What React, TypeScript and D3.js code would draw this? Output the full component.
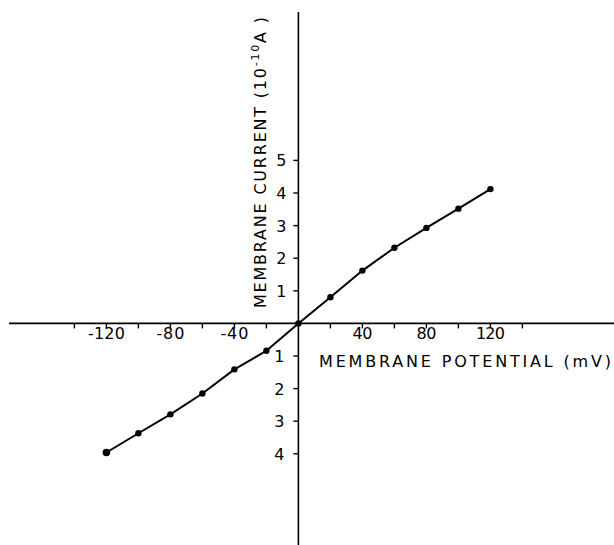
import * as d3 from "d3";

// membrane potential (mV) and membrane current (10^-10 A)
const potentials = [-120, -100, -80, -60, -40, -20, 0, 20, 40, 60, 80, 100, 120];
const currents = [-3.96, -3.37, -2.79, -2.15, -1.41, -0.84, 0, 0.8, 1.62, 2.32, 2.93, 3.52, 4.12];

const xTicks = [-140, -120, -100, -80, -60, -40, -20, 20, 40, 60, 80, 100, 120, 140];
const xTickLabels = [-120, -80, -40, 40, 80, 120];
const yTicks = [-4, -3, -2, -1, 1, 2, 3, 4, 5];

const W = 614;
const H = 545;
const font = "'DejaVu Sans', sans-serif";

const App = () => {
  const x = d3.scaleLinear().domain([-140, 140]).range([74.4, 522.4]);
  const y = d3.scaleLinear().domain([-4, 5]).range([453.8, 160.4]);

  const points = potentials.map((p, i) => [p, currents[i]] as [number, number]);
  const line = d3
    .line<[number, number]>()
    .x((d) => x(d[0]))
    .y((d) => y(d[1]));

  const x0 = x(0);
  const y0 = y(0);

  return (
    <svg
      width={W}
      height={H}
      style={{ position: "absolute", left: 0, top: 0, background: "#fff" }}
    >
      {/* axes */}
      <line x1={9} x2={W} y1={y0} y2={y0} stroke="#000" strokeWidth={1.6} />
      <line x1={x0} x2={x0} y1={12} y2={H} stroke="#000" strokeWidth={1.6} />

      {xTicks.map((t) => (
        <line key={t} x1={x(t)} x2={x(t)} y1={y0} y2={y0 + 5} stroke="#000" strokeWidth={1.4} />
      ))}
      {xTickLabels.map((t) => (
        <text
          key={t}
          x={x(t)}
          y={y0 + 16}
          textAnchor="middle"
          fontFamily={font}
          fontSize={16}
          fill="#000"
          textLength={t < 0 ? (t < -99 ? 37 : 28) : t > 99 ? 29 : 20}
          lengthAdjust="spacing"
        >
          {t < 0 ? "-" + Math.abs(t) : t}
        </text>
      ))}

      {yTicks.map((t) => (
        <line key={t} x1={x0 - 5} x2={x0} y1={y(t)} y2={y(t)} stroke="#000" strokeWidth={1.4} />
      ))}
      {yTicks.map((t) => (
        <text
          key={t}
          x={t < 0 ? x0 - 19 : x0 - 17}
          y={y(t) + 6}
          textAnchor="middle"
          fontFamily={font}
          fontSize={16}
          fill="#000"
        >
          {Math.abs(t)}
        </text>
      ))}

      {/* axis titles */}
      <text
        x={319}
        y={367}
        fontFamily={font}
        fontSize={16}
        fill="#000"
        textLength={292}
        lengthAdjust="spacing"
      >
        MEMBRANE POTENTIAL (mV)
      </text>
      <text
        transform="translate(266,308) rotate(-90)"
        fontFamily={font}
        fontSize={16}
        fill="#000"
        textLength={291}
        lengthAdjust="spacing"
      >
        MEMBRANE CURRENT (10
        <tspan fontSize={11} dy={-7}>-10</tspan>
        <tspan dy={7}>A )</tspan>
      </text>

      {/* data */}
      <path d={line(points) ?? ""} fill="none" stroke="#000" strokeWidth={2} />
      {points.map((d, i) => (
        <circle
          key={i}
          cx={x(d[0])}
          cy={y(d[1])}
          r={i === 0 ? 3.8 : 3.2}
          fill="#000"
        />
      ))}
    </svg>
  );
};

export default App;
